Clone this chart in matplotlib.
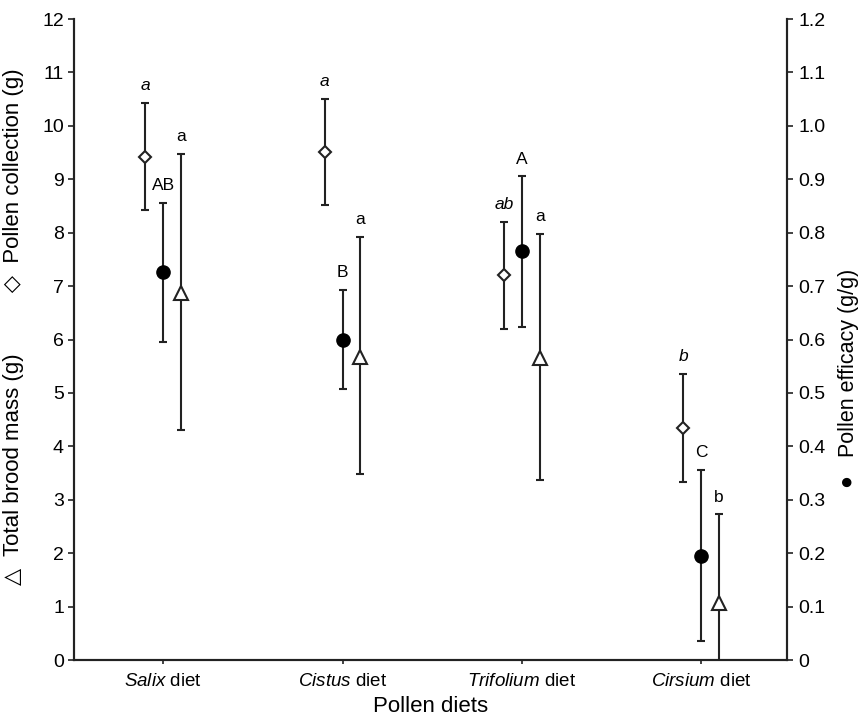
# pollen diets: collection, efficacy and brood mass
import numpy as np
import matplotlib
matplotlib.use('Agg')
import matplotlib.pyplot as plt

plt.rcParams['font.family'] = ['Liberation Sans', 'DejaVu Sans']
plt.rcParams['mathtext.fontset'] = 'custom'
plt.rcParams['mathtext.rm'] = 'Liberation Sans'
plt.rcParams['mathtext.it'] = 'Liberation Sans:italic'

diets = ['Salix', 'Cistus', 'Trifolium', 'Cirsium']

# pollen collection (g), diamonds, left axis
coll = [9.42, 9.51, 7.21, 4.34]
coll_lo = [8.43, 8.52, 6.20, 3.33]
coll_hi = [10.43, 10.50, 8.20, 5.36]
coll_lab = ['a', 'a', 'ab', 'b']

# pollen efficacy (g/g), filled circles, right axis
eff = [0.727, 0.599, 0.766, 0.195]
eff_lo = [0.596, 0.507, 0.624, 0.036]
eff_hi = [0.856, 0.693, 0.906, 0.356]
eff_lab = ['AB', 'B', 'A', 'C']

# total brood mass (g), open triangles, left axis
brood = [6.87, 5.67, 5.66, 1.07]
brood_lo = [4.31, 3.48, 3.37, -0.59]
brood_hi = [9.48, 7.92, 7.98, 2.73]
brood_lab = ['a', 'a', 'a', 'b']

x = np.arange(len(diets))
dx = 0.1
lc = '#222222'

fig = plt.figure(figsize=(8.66, 7.21), dpi=100)
ax = fig.add_axes([0.085, 0.0846, 0.824, 0.889])
ax2 = ax.twinx()

def bars(a, xs, y, lo, hi, **kw):
    y = np.array(y)
    err = [y - np.array(lo), np.array(hi) - y]
    a.errorbar(xs, y, yerr=err, fmt='none', ecolor=lc, elinewidth=1.5,
               capsize=3.2, capthick=1.5, zorder=2)
    a.plot(xs, y, linestyle='none', zorder=3, clip_on=False, **kw)

bars(ax, x - dx, coll, coll_lo, coll_hi, marker='D', ms=6.5,
     mfc='white', mec=lc, mew=1.5)
bars(ax, x + dx, brood, brood_lo, brood_hi, marker='^', ms=10,
     mfc='white', mec=lc, mew=1.5)
bars(ax2, x, eff, eff_lo, eff_hi, marker='o', ms=9.5,
     mfc='black', mec='black')

for i in range(len(diets)):
    ax.annotate(coll_lab[i], (x[i] - dx, coll_hi[i]), xytext=(0, 9.5),
                textcoords='offset points', ha='center', va='baseline',
                fontsize=12.5, style='italic')
    ax.annotate(brood_lab[i], (x[i] + dx, brood_hi[i]), xytext=(0, 9),
                textcoords='offset points', ha='center', va='baseline',
                fontsize=12.5)
    ax2.annotate(eff_lab[i], (x[i], eff_hi[i]), xytext=(0, 9),
                 textcoords='offset points', ha='center', va='baseline',
                 fontsize=12.5)

ax.set_xlim(-0.5, 3.48)
ax.set_ylim(0, 12)
ax2.set_ylim(0, 1.2)
ax.set_yticks(range(0, 13))
ax2.set_yticks(np.arange(0, 1.21, 0.1))
ax2.set_yticklabels(['0'] + ['%.1f' % v for v in np.arange(0.1, 1.21, 0.1)])

ax.set_xticks(x)
ax.set_xticklabels([r'$\mathit{%s}$ diet' % d for d in diets], fontsize=13.5)
ax.tick_params(axis='x', direction='out', length=3, width=1.2, color=lc, pad=6)
ax.tick_params(axis='y', direction='out', length=4, width=1.2, color=lc,
               labelsize=14, pad=3)
ax2.tick_params(axis='y', direction='out', length=4, width=1.2, color=lc,
                labelsize=14, pad=4)

for a in (ax, ax2):
    a.spines['top'].set_visible(False)
    for s in ('left', 'right', 'bottom'):
        a.spines[s].set_color(lc)
        a.spines[s].set_linewidth(1.5)

ax.set_xlabel('Pollen diets', fontsize=16, labelpad=5)
ax.set_ylabel('\u25b3  Total brood mass (g)          \u25c7  Pollen collection (g)',
              fontsize=16)
ax.yaxis.set_label_coords(-0.07, 0.52)
ax2.set_ylabel('\u25cf   Pollen efficacy (g/g)', fontsize=15.5)
ax2.yaxis.set_label_coords(1.071, 0.44)

fig.savefig('out.png', dpi=100)
